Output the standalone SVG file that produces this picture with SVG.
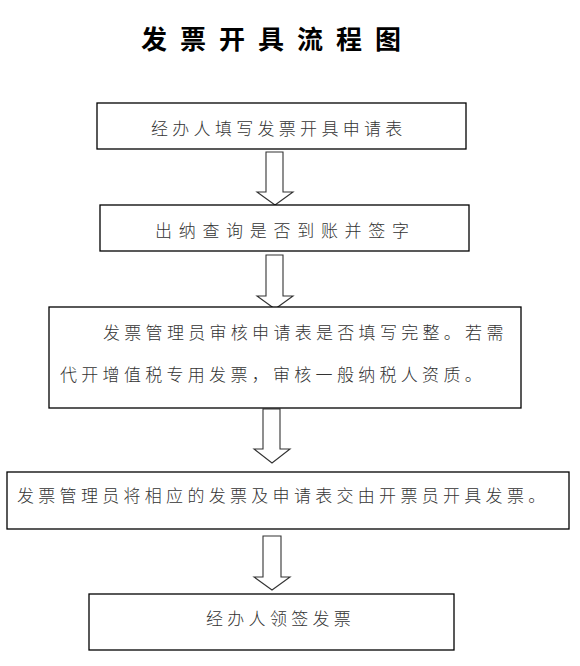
<svg xmlns="http://www.w3.org/2000/svg" width="580" height="666" viewBox="0 0 580 666">
<style>
.box{fill:#fff;stroke:#000;stroke-width:1.3}
.arr{fill:#fff;stroke:#333;stroke-width:1.1;stroke-linejoin:miter}
text{font-family:"Noto Sans CJK SC","Noto Sans CJK JP",sans-serif;fill:#333}
.t{font-size:17px;letter-spacing:4.3px;font-weight:300}
.title{font-size:26px;font-weight:bold;letter-spacing:13px;fill:#000}
</style>
<rect width="580" height="666" fill="#fff"/>
<text class="title" x="141" y="49">发票开具流程图</text>
<g id="connectors">
<path class="arr" d="M266,152 H283 V192 H293 L275,205 L257,192 H266 Z"/>
<path class="arr" d="M266,255 H283 V296 H293 L275,309 L257,296 H266 Z"/>
<path class="arr" d="M263,409 H280 V449 H290 L272,463 L254,449 H263 Z"/>
<path class="arr" d="M263,536 H281 V577 H290 L272,590 L254,577 H263 Z"/>
</g>
<g id="n1">
<rect class="box" x="97" y="103" width="369" height="46"/>
<text class="t" x="151" y="135">经办人填写发票开具申请表</text>
</g>
<g id="n2">
<rect class="box" x="100" y="205" width="369" height="46"/>
<text class="t" x="155" y="237" style="letter-spacing:6.7px">出纳查询是否到账并签字</text>
</g>
<g id="n3">
<rect class="box" x="49" y="307" width="472" height="101"/>
<text class="t" x="103" y="339">发票管理员审核申请表是否填写完整。若需</text>
<text class="t" x="60" y="381">代开增值税专用发票，审核一般纳税人资质。</text>
</g>
<g id="n4">
<rect class="box" x="7" y="472" width="562" height="57"/>
<text class="t" x="17" y="502">发票管理员将相应的发票及申请表交由开票员开具发票。</text>
</g>
<g id="n5">
<rect class="box" x="89" y="594" width="365" height="56"/>
<text class="t" x="206" y="625">经办人领签发票</text>
</g>
</svg>
